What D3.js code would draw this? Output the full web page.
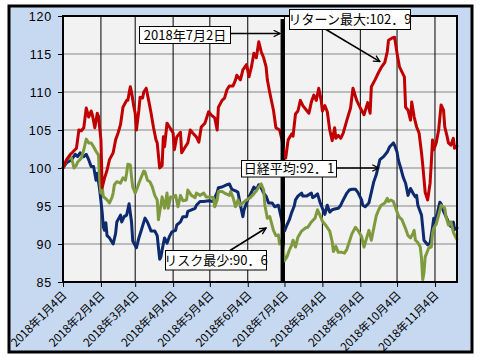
<!DOCTYPE html>
<html><head><meta charset="utf-8">
<script src="https://cdn.jsdelivr.net/npm/d3@7"></script>
<style>body{margin:0;background:#fff}svg{display:block}</style>
</head><body><svg id="c" width="480" height="360"></svg>
<script>
// ---- data ----
const year = 2018;
const tickDates = ["01-04","02-04","03-04","04-04","05-04","06-04","07-04","08-04","09-04","10-04","11-04"];
const yTicks = [85,90,95,100,105,110,115,120];
const markerDate = "07-02";
const axisEndDate = "11-22";

const returnMax = [["01-04",100.0],["01-07",101.1],["01-10",101.8],["01-12",102.1],["01-15",102.6],["01-17",105.0],["01-19",104.9],["01-21",105.3],["01-23",107.9],["01-25",106.7],["01-27",107.5],["01-28",107.0],["01-30",105.3],["02-01",107.2],["02-02",106.8],["02-04",103.7],["02-05",97.4],["02-07",98.7],["02-09",99.7],["02-11",101.1],["02-14",102.0],["02-16",103.7],["02-18",104.6],["02-20",105.7],["02-22",108.0],["02-25",108.9],["02-26",108.9],["02-28",110.7],["03-01",110.0],["03-03",108.0],["03-04",107.2],["03-05",105.0],["03-07",107.6],["03-08",109.3],["03-10",109.2],["03-11",110.0],["03-13",110.5],["03-15",108.9],["03-17",107.2],["03-19",105.3],["03-21",103.7],["03-22",103.3],["03-24",100.0],["03-26",100.3],["03-27",104.1],["03-28",102.8],["03-30",105.9],["04-01",105.4],["04-04",104.6],["04-05",102.4],["04-07",104.1],["04-10",104.7],["04-11",102.0],["04-14",102.8],["04-16",103.3],["04-18",105.0],["04-20",104.6],["04-23",104.1],["04-25",103.4],["04-27",105.4],["04-30",105.9],["05-03",107.4],["05-05",107.0],["05-08",106.6],["05-10",105.0],["05-11",108.0],["05-14",108.9],["05-16",109.2],["05-18",110.3],["05-20",110.8],["05-23",110.8],["05-25",111.6],["05-26",112.2],["05-29",111.6],["05-31",112.9],["06-03",113.6],["06-05",112.0],["06-07",113.3],["06-09",115.1],["06-11",114.5],["06-13",116.6],["06-15",115.3],["06-17",114.5],["06-19",113.3],["06-20",111.6],["06-22",109.9],["06-25",107.6],["06-27",105.3],["06-30",105.0],["07-02",103.7],["07-03",102.4],["07-05",101.3],["07-07",103.7],["07-10",104.5],["07-11",104.2],["07-13",107.1],["07-15",107.5],["07-17",108.9],["07-19",108.2],["07-22",107.6],["07-24",107.2],["07-26",108.7],["07-28",109.6],["07-30",108.9],["08-01",110.5],["08-03",108.9],["08-04",107.5],["08-06",108.2],["08-08",107.4],["08-10",105.0],["08-12",103.6],["08-14",105.3],["08-15",103.9],["08-17",104.3],["08-19",103.9],["08-21",104.6],["08-24",106.3],["08-27",107.9],["08-29",110.5],["09-01",108.9],["09-04",107.9],["09-07",107.0],["09-10",108.6],["09-12",107.2],["09-13",110.7],["09-16",111.6],["09-19",112.6],["09-21",113.2],["09-24",113.9],["09-26",115.3],["09-27",116.8],["09-30",117.1],["10-02",117.2],["10-04",115.1],["10-06",113.3],["10-10",112.0],["10-11",108.0],["10-13",107.6],["10-15",106.3],["10-16",108.7],["10-18",106.7],["10-20",105.4],["10-22",104.6],["10-24",102.0],["10-25",100.4],["10-27",96.8],["10-29",95.8],["10-31",98.0],["11-01",100.7],["11-02",103.7],["11-03",102.4],["11-05",103.3],["11-07",105.0],["11-09",108.3],["11-11",107.6],["11-12",105.4],["11-14",104.1],["11-15",103.3],["11-17",103.0],["11-19",103.9],["11-20",102.6],["11-22",102.9]];

const nikkei = [["01-04",100.0],["01-07",100.7],["01-11",101.1],["01-14",101.8],["01-16",101.5],["01-18",102.0],["01-21",101.5],["01-23",101.8],["01-25",101.1],["01-27",100.2],["01-29",100.2],["01-31",98.4],["02-01",99.3],["02-03",97.1],["02-05",94.2],["02-06",92.2],["02-07",91.8],["02-08",92.8],["02-09",91.1],["02-11",90.8],["02-14",90.0],["02-16",91.4],["02-17",92.9],["02-20",93.8],["02-21",92.9],["02-23",93.6],["02-25",93.8],["02-27",95.3],["03-01",92.9],["03-02",90.4],["03-05",89.5],["03-07",90.8],["03-09",91.8],["03-12",93.4],["03-14",92.9],["03-17",91.7],["03-20",91.7],["03-22",91.1],["03-24",88.0],["03-25",88.3],["03-26",89.2],["03-28",90.8],["03-30",90.1],["04-01",91.0],["04-03",91.6],["04-06",91.8],["04-07",92.5],["04-10",92.9],["04-12",93.6],["04-15",93.6],["04-16",94.3],["04-19",94.5],["04-22",94.7],["04-23",95.1],["04-26",95.6],["04-29",95.6],["05-03",95.7],["05-07",95.6],["05-08",96.1],["05-10",96.8],["05-11",97.4],["05-14",97.5],["05-18",97.8],["05-20",97.9],["05-22",97.2],["05-25",97.0],["05-27",96.8],["05-29",95.1],["05-31",93.6],["06-01",94.5],["06-03",95.4],["06-05",96.2],["06-07",96.8],["06-09",97.5],["06-11",97.1],["06-13",97.8],["06-15",97.4],["06-17",96.7],["06-19",96.3],["06-21",95.4],["06-24",95.4],["06-26",94.9],["06-29",95.1],["07-02",93.0],["07-03",91.8],["07-04",91.7],["07-06",92.5],["07-08",93.2],["07-10",94.2],["07-12",95.0],["07-13",95.8],["07-15",96.3],["07-18",96.7],["07-19",96.3],["07-22",96.3],["07-23",96.4],["07-26",96.7],["07-27",96.1],["07-29",96.3],["07-31",96.6],["08-02",95.5],["08-04",94.7],["08-06",93.9],["08-08",95.1],["08-10",94.2],["08-12",94.5],["08-14",94.6],["08-17",94.7],["08-19",95.1],["08-21",95.8],["08-24",96.7],["08-26",97.1],["08-28",97.2],["08-31",97.2],["09-02",96.8],["09-05",95.8],["09-06",95.1],["09-08",94.9],["09-11",95.4],["09-13",96.8],["09-15",98.2],["09-17",99.1],["09-20",101.1],["09-23",101.5],["09-26",102.1],["09-28",102.8],["10-01",103.3],["10-02",103.0],["10-04",102.1],["10-05",101.1],["10-07",100.0],["10-09",98.8],["10-11",98.0],["10-13",96.4],["10-15",97.3],["10-17",96.7],["10-19",96.2],["10-20",96.4],["10-21",95.1],["10-24",93.8],["10-25",92.2],["10-26",90.5],["10-29",89.9],["10-31",90.1],["11-02",92.2],["11-03",93.4],["11-04",92.9],["11-06",94.1],["11-08",95.5],["11-09",95.3],["11-11",94.3],["11-13",93.6],["11-15",92.9],["11-17",92.3],["11-19",92.9],["11-20",91.9],["11-22",92.1]];

const riskMin = [["01-04",100.0],["01-07",101.1],["01-10",101.4],["01-11",101.3],["01-13",100.0],["01-15",100.4],["01-16",100.8],["01-19",101.3],["01-21",102.4],["01-23",103.8],["01-25",103.3],["01-27",103.3],["01-29",102.8],["01-31",102.2],["02-02",101.7],["02-03",98.4],["02-04",96.7],["02-05",97.5],["02-06",96.2],["02-07",96.1],["02-09",95.8],["02-11",95.4],["02-13",96.1],["02-14",96.7],["02-15",97.8],["02-17",98.2],["02-20",98.0],["02-22",98.7],["02-24",98.4],["02-25",99.3],["02-26",100.5],["02-28",100.4],["03-01",98.8],["03-02",97.5],["03-04",96.7],["03-06",97.5],["03-07",98.0],["03-09",98.8],["03-11",99.6],["03-12",99.5],["03-14",98.4],["03-16",98.2],["03-18",97.5],["03-20",96.4],["03-22",95.8],["03-23",93.2],["03-24",94.2],["03-25",95.1],["03-26",96.2],["03-28",94.7],["03-30",96.7],["03-31",94.7],["04-02",96.2],["04-04",96.1],["04-06",96.4],["04-08",94.9],["04-10",96.4],["04-12",95.7],["04-15",95.8],["04-16",97.1],["04-19",96.4],["04-22",96.1],["04-23",96.7],["04-26",96.4],["04-29",96.7],["05-01",96.2],["05-04",96.2],["05-07",96.1],["05-08",94.9],["05-10",95.8],["05-11",96.9],["05-14",96.9],["05-16",96.7],["05-20",96.4],["05-21",96.9],["05-23",96.1],["05-25",94.9],["05-27",95.8],["05-29",95.1],["05-31",95.4],["06-03",95.8],["06-06",96.1],["06-09",96.6],["06-11",97.0],["06-13",97.5],["06-15",97.9],["06-17",97.1],["06-18",95.1],["06-20",93.4],["06-22",93.6],["06-25",91.8],["06-27",91.1],["06-29",91.2],["06-30",90.0],["07-02",90.5],["07-03",89.5],["07-04",87.8],["07-06",88.3],["07-08",89.2],["07-10",89.9],["07-11",90.5],["07-13",89.6],["07-15",90.9],["07-18",91.7],["07-21",92.1],["07-23",92.2],["07-26",92.9],["07-29",93.4],["07-31",94.5],["08-02",93.8],["08-04",93.0],["08-07",92.4],["08-10",91.7],["08-12",90.3],["08-13",89.0],["08-15",89.7],["08-17",88.9],["08-20",88.9],["08-22",88.8],["08-24",89.3],["08-26",90.3],["08-28",91.3],["08-31",92.2],["09-02",91.8],["09-05",91.0],["09-07",89.6],["09-09",90.7],["09-11",91.8],["09-13",90.5],["09-15",92.1],["09-17",93.7],["09-19",94.5],["09-21",95.1],["09-24",95.4],["09-26",96.0],["09-27",95.6],["09-29",95.8],["10-01",95.6],["10-02",95.1],["10-05",93.8],["10-06",93.5],["10-08",93.2],["10-11",92.0],["10-13",91.1],["10-15",90.8],["10-17",91.4],["10-18",91.8],["10-19",90.5],["10-21",90.2],["10-23",89.6],["10-24",88.1],["10-25",85.3],["10-26",86.2],["10-27",88.3],["10-30",89.5],["11-01",89.6],["11-02",91.4],["11-03",92.1],["11-05",92.6],["11-07",93.8],["11-09",95.1],["11-12",94.7],["11-13",93.6],["11-15",92.5],["11-17",92.9],["11-19",91.6],["11-20",91.2],["11-22",90.6]];

const seriesColors = {nikkei:"#0d2a6e", riskMin:"#7f9a3e", returnMax:"#c00000"};
const markerLabel = "2018年7月2日";
const labelReturn = "リターン最大:102．9";
const labelNikkei = "日経平均:92．1";
const labelRisk = "リスク最少:90．6";

// ---- drawing ----
const parse = d3.timeParse("%Y-%m-%d");
const dt = md => parse(year + "-" + md);
const svg = d3.select("#c");
const L = 63, T = 16, R = 457, B = 282;
const x = d3.scaleTime().domain([dt("01-04"), dt(axisEndDate)]).range([L, R]);
const y = d3.scaleLinear().domain([85, 120]).range([B, T]);
const jpFont = "'Noto Sans CJK JP', sans-serif";

svg.append("rect").attr("x", 9).attr("y", 6).attr("width", 463).attr("height", 346)
  .attr("fill", "#c6d9f1").attr("stroke", "#000").attr("stroke-width", 3);

svg.append("rect").attr("x", L).attr("y", T).attr("width", R - L).attr("height", B - T)
  .attr("fill", "#f2f2f2");

// gridlines
svg.append("g").selectAll("line").data(yTicks.filter(v => v > 85 && v < 120)).join("line")
  .attr("x1", L).attr("x2", R).attr("y1", d => y(d)).attr("y2", d => y(d))
  .attr("stroke", "#868686").attr("stroke-width", 1);
svg.append("g").selectAll("line").data(tickDates.slice(1)).join("line")
  .attr("x1", d => x(dt(d))).attr("x2", d => x(dt(d)))
  .attr("y1", T).attr("y2", B).attr("stroke", "#000").attr("stroke-width", 1);

// axes
const yAxis = svg.append("g").attr("transform", `translate(${L},0)`)
  .call(d3.axisLeft(y).tickValues(yTicks).tickSize(5).tickPadding(6).tickFormat(d => d));
yAxis.select(".domain").remove();
yAxis.selectAll("text").attr("font-family", "'Liberation Sans', Arial, sans-serif")
  .attr("font-size", 12.5).attr("letter-spacing", 0.8).attr("fill", "#000");

const xAxis = svg.append("g").attr("transform", `translate(0,${B})`)
  .call(d3.axisBottom(x).tickValues(tickDates.map(dt)).tickSize(5)
    .tickFormat(d => `${d.getFullYear()}年${d.getMonth() + 1}月${d.getDate()}日`));
xAxis.select(".domain").remove();
xAxis.selectAll("text").attr("x", 0).attr("y", 0).attr("dy", 0)
  .attr("transform", "translate(4,14) rotate(-45)")
  .attr("text-anchor", "end").attr("font-family", jpFont).attr("font-size", 11.5).attr("fill", "#000");

// series
const line = d3.line().x(d => x(dt(d[0]))).y(d => y(d[1]));
[["nikkei", nikkei], ["riskMin", riskMin], ["returnMax", returnMax]].forEach(([k, data]) => {
  svg.append("path").datum(data).attr("d", line).attr("fill", "none")
    .attr("stroke", seriesColors[k]).attr("stroke-width", 3)
    .attr("stroke-linejoin", "round").attr("stroke-linecap", "round");
});

// plot border
svg.append("rect").attr("x", L).attr("y", T).attr("width", R - L).attr("height", B - T)
  .attr("fill", "none").attr("stroke", "#000").attr("stroke-width", 2);

// marker vertical line
const mx = x(dt(markerDate));
svg.append("line").attr("x1", mx + 0.3).attr("x2", mx + 0.3).attr("y1", 19).attr("y2", B)
  .attr("stroke", "#000").attr("stroke-width", 3.5);

// arrow marker
svg.append("defs").append("marker").attr("id", "ah").attr("viewBox", "0 0 10 10")
  .attr("refX", 9).attr("refY", 5).attr("markerWidth", 8).attr("markerHeight", 8)
  .attr("markerUnits", "userSpaceOnUse").attr("orient", "auto")
  .append("path").attr("d", "M1,1 L9,5 L1,9").attr("fill", "none").attr("stroke", "#000").attr("stroke-width", 1.6);

function arrow(x1, y1, x2, y2) {
  svg.append("line").attr("x1", x1).attr("y1", y1).attr("x2", x2).attr("y2", y2)
    .attr("stroke", "#000").attr("stroke-width", 1.6).attr("marker-end", "url(#ah)");
}
function box(bx, by, bw, bh, txt) {
  svg.append("rect").attr("x", bx).attr("y", by).attr("width", bw).attr("height", bh)
    .attr("fill", "#fff").attr("stroke", "#000").attr("stroke-width", 1);
  svg.append("text").attr("x", bx + bw / 2).attr("y", by + bh / 2).attr("dy", "0.36em")
    .attr("text-anchor", "middle").attr("font-family", jpFont).attr("font-size", 13)
    .attr("fill", "#000").text(txt);
}

arrow(231, 33.5, mx - 2, 33.5);
box(139.5, 26.5, 91, 17, markerLabel);

arrow(326, 29.5, x(dt("09-20")), y(114));
box(289.5, 9.5, 121, 20, labelReturn);

arrow(337, y(100), x(dt("09-19")), y(100));
box(241.5, 160.5, 95, 16.5, labelNikkei);

arrow(230, 250.5, x(dt("06-19")), y(92.1));
box(165.5, 250.5, 101, 19.5, labelRisk);
</script></body></html>
